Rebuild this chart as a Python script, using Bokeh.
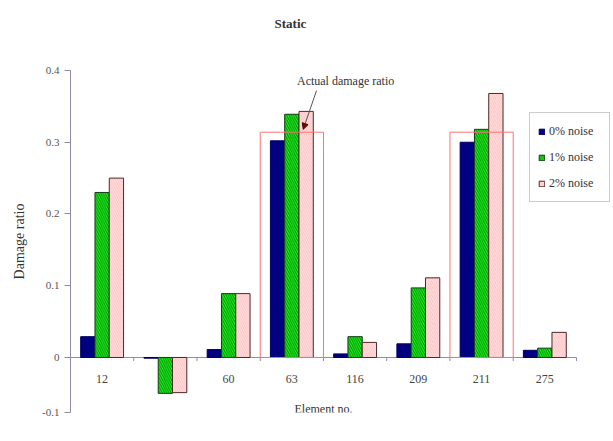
import numpy as np
from bokeh.plotting import figure
from bokeh.models import (Range1d, FixedTicker, Label, Arrow, NormalHead,
                          Legend, LegendItem)
from bokeh.core.properties import value
from bokeh.embed import file_html
from bokeh.resources import INLINE

# ---------------- data ----------------
elements = ["12", "24", "60", "63", "116", "209", "211", "275"]
noise0 = [0.029, -0.001, 0.011, 0.302, 0.005, 0.019, 0.300, 0.010]
noise1 = [0.230, -0.050, 0.089, 0.339, 0.029, 0.097, 0.318, 0.013]
noise2 = [0.250, -0.049, 0.089, 0.343, 0.021, 0.111, 0.368, 0.035]
actual_elements = ["63", "211"]
actual_ratio = [0.314, 0.314]
y_ticks = [0, 0.1, 0.2, 0.3, 0.4]
series_labels = ["0% noise", "1% noise", "2% noise"]

FONT = "Liberation Serif"
Y_BOTTOM = -0.0767
n = len(elements)
idx = np.arange(n)
centers = idx + 0.5
bw = 0.226

p = figure(width=613, height=441, output_backend="svg", toolbar_location=None,
           x_range=Range1d(0, n + 0.57), y_range=Range1d(Y_BOTTOM, 0.4),
           min_border_left=70, min_border_right=1, min_border_top=70,
           min_border_bottom=29)
p.outline_line_color = None
p.xgrid.visible = False
p.ygrid.visible = False
p.xaxis.visible = False
p.background_fill_color = "white"

p.title.text = "Static\n\n"
p.title.align = "left"
p.title.offset = 204
p.title.standoff = 20
p.title.text_font = FONT
p.title.text_font_size = "13px"
p.title.text_font_style = "bold"
p.title.text_color = "#333333"

# y axis
ya = p.yaxis[0]
ya.ticker = FixedTicker(ticks=[Y_BOTTOM] + y_ticks)
ya.major_label_overrides = {Y_BOTTOM: "-0.1", 0: "0", 0.1: "0.1", 0.2: "0.2",
                            0.3: "0.3", 0.4: "0.4"}
ya.minor_tick_line_color = None
ya.major_tick_in = 0
ya.major_tick_out = 6
ya.axis_line_color = "#8c8ca8"
ya.major_tick_line_color = "#8c8ca8"
ya.major_label_text_font = FONT
ya.major_label_text_font_size = "11px"
ya.major_label_text_color = "#555555"
ya.major_label_standoff = 5
ya.axis_label = "Damage ratio"
ya.axis_label_text_font = FONT
ya.axis_label_text_font_size = "14px"
ya.axis_label_text_font_style = "normal"
ya.axis_label_text_color = "#333333"
ya.axis_label_standoff = 12

# category labels (drawn first, so bars cover them as in the reference)
p.text(x=centers, y=[0] * n, text=elements, text_font=value(FONT),
       text_font_size="12px", text_color="#444444", text_align="center",
       text_baseline="middle", y_offset=22)

# x axis line at zero and boundary ticks
p.segment(x0=[0], y0=[0], x1=[n], y1=[0], line_color="#8c8ca8", line_width=1)
bounds = np.arange(0, n + 1)
p.segment(x0=bounds, y0=[0] * len(bounds), x1=bounds, y1=[-0.005] * len(bounds),
          line_color="#8c8ca8", line_width=1)

r0 = p.vbar(x=centers - bw, top=noise0, bottom=0, width=bw,
            fill_color="#000080", line_color="#000060", line_width=1)
r1 = p.vbar(x=centers, top=noise1, bottom=0, width=bw,
            fill_color="#33ff33", line_color="#1a3a1a", line_width=1,
            hatch_pattern="left_diagonal_line", hatch_color="#00a000",
            hatch_scale=4.5, hatch_weight=1.3)
r2 = p.vbar(x=centers + bw, top=noise2, bottom=0, width=bw,
            fill_color="#ffb8b8", line_color="#4a2a2a", line_width=1,
            hatch_pattern="left_diagonal_line", hatch_color="#ffe0e0",
            hatch_scale=4.5, hatch_weight=1.3)

# actual damage boxes
act_x = [elements.index(e) + 0.5 for e in actual_elements]
p.vbar(x=act_x, top=actual_ratio, bottom=0, width=1.0, fill_color=None,
       line_color="#ff7070", line_width=1)

# annotation
i63 = elements.index("63")
p.add_layout(Label(x=i63 + 1.35, y=0.386, text="Actual damage ratio",
                   text_font=FONT, text_font_size="12px", text_color="#333333",
                   text_align="center", text_baseline="middle"))
p.add_layout(Arrow(x_start=i63 + 0.89, y_start=0.372, x_end=i63 + 0.68, y_end=0.318,
                   line_color="#555555", line_width=1,
                   end=NormalHead(size=6, fill_color="#800000", line_color="#400000")))

# x-axis title
p.add_layout(Label(x=n / 2, y=Y_BOTTOM + 0.0055, text="Element no.",
                   text_font=FONT, text_font_size="12px", text_color="#333333",
                   text_align="center", text_baseline="middle"))

legend = Legend(items=[LegendItem(label=series_labels[0], renderers=[r0]),
                       LegendItem(label=series_labels[1], renderers=[r1]),
                       LegendItem(label=series_labels[2], renderers=[r2])],
                location=(459, 210))
legend.label_text_font = FONT
legend.label_text_font_size = "12px"
legend.label_text_color = "#333333"
legend.glyph_width = 7
legend.glyph_height = 7
legend.label_height = 20
legend.label_width = 52
legend.label_standoff = 4
legend.spacing = 6
legend.padding = 8
legend.margin = 0
legend.border_line_color = "#999999"
legend.background_fill_color = "white"
legend.background_fill_alpha = 1
p.add_layout(legend)

open("out.html", "w").write(file_html(p, INLINE))
